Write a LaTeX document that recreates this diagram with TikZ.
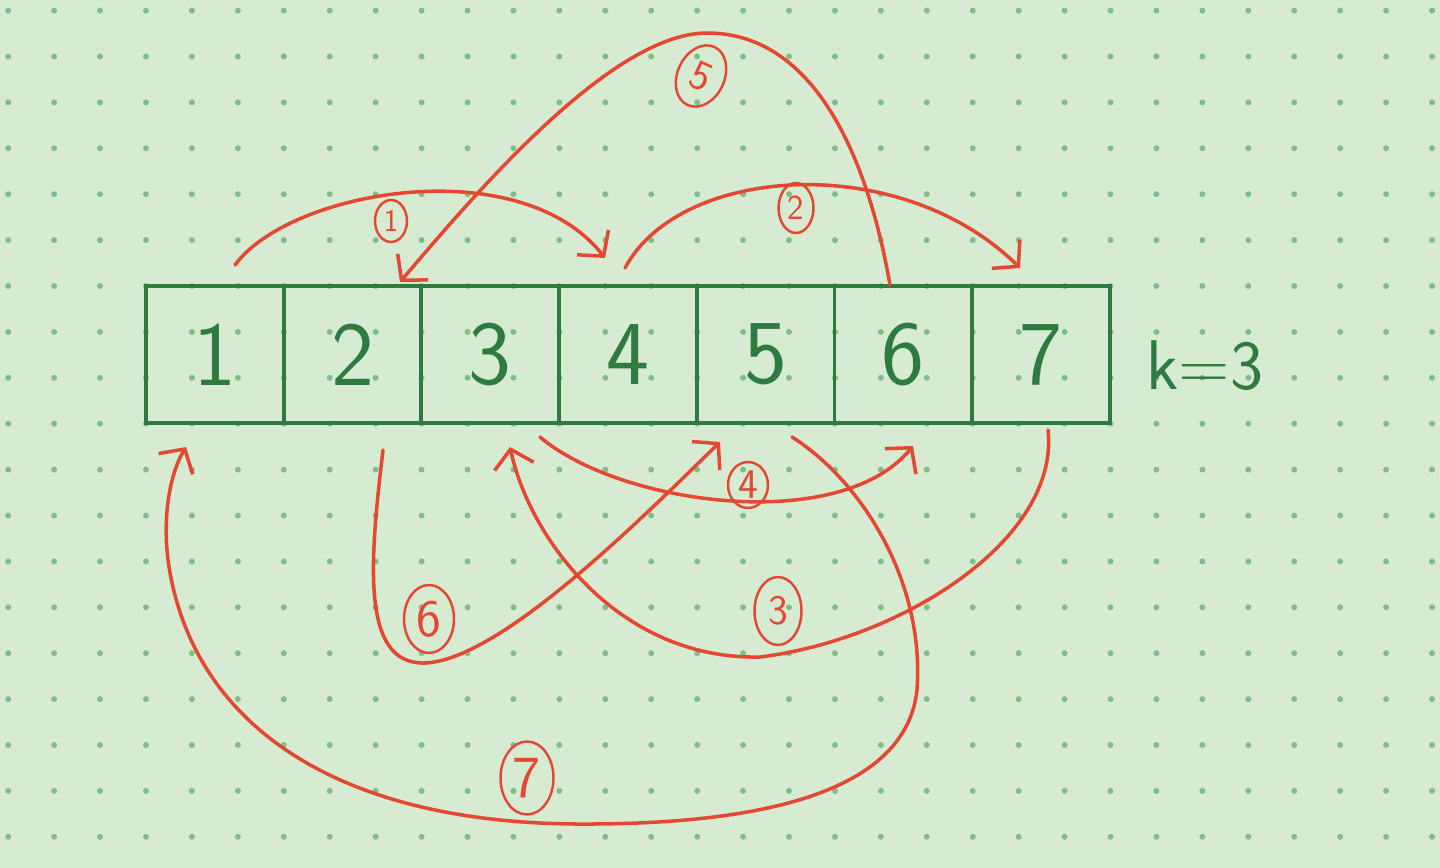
\documentclass[tikz,border=0pt]{standalone}
\usepackage{tikz}
\usetikzlibrary{positioning,arrows.meta,shapes.geometric}
\definecolor{paper}{RGB}{214,235,210}
\definecolor{dotc}{RGB}{128,190,136}
\definecolor{ink}{RGB}{46,122,64}
\definecolor{pen}{RGB}{228,72,50}

\begin{document}
\begin{tikzpicture}[x=0.02cm ,y=-0.02cm ,node distance =2.754cm ,on grid ,
cell/.style ={ draw=ink ,line width=2.2pt ,minimum width=2.754cm ,minimum height=2.74cm ,
  text=ink ,font=\sffamily\fontsize{52}{60}\selectfont},
ring/.style ={ ellipse ,draw=pen ,line width=1.4pt ,text=pen ,inner sep=0pt ,
  font=\sffamily\fontsize{24}{26}\selectfont},
hop/.style ={ draw=pen ,line width=2pt ,line cap=round ,
  -{Straight Barb[length=3.5mm,width=8mm]}}]
\fill[paper] (0,0) rectangle (1440,868);
\foreach \i in {0,...,31}
  \foreach \j in {0,...,18}
    \fill[dotc] (8.2+45.93*\i ,10.6+45.9*\j) circle (1.7pt);
\useasboundingbox (0,0) rectangle (1440,868);
\node[cell] (n1) at (214.9,354.5) {1};
\node[cell] (n2) [right =of n1] {2};
\node[cell] (n3) [right =of n2] {3};
\node[cell] (n4) [right =of n3] {4};
\node[cell] (n5) [right =of n4] {5};
\node[cell] (n6) [right =of n5] {6};
\node[cell] (n7) [right =of n6] {7};
\node[text=ink ,font=\sffamily\fontsize{40}{48}\selectfont] (k) at (1205,366) {k=3};
\node[ring ,minimum width=0.64cm ,minimum height=0.84cm ,font=\sffamily\fontsize{18}{20}\selectfont] (s1) at (391,221) {1};
\node[ring ,minimum width=0.7cm ,minimum height=1cm ,font=\sffamily\fontsize{20}{22}\selectfont] (s2) at (796,208) {2};
\node[ring ,minimum width=0.94cm ,minimum height=1.36cm] (s3) at (778,611) {3};
\node[ring ,minimum width=0.8cm ,minimum height=0.92cm] (s4) at (748,485) {4};
\node[ring ,minimum width=0.94cm ,minimum height=1.28cm ,rotate=-25] (s5) at (701,76) {5};
\node[ring ,minimum width=1cm ,minimum height=1.36cm ,font=\sffamily\fontsize{30}{32}\selectfont] (s6) at (429,619) {6};
\node[ring ,minimum width=1.06cm ,minimum height=1.46cm ,font=\sffamily\fontsize{34}{36}\selectfont] (s7) at (527,778) {7};
\coordinate (a1) at (235,265);
\coordinate (b1) at (605,258);
\coordinate (a2) at (625,268);
\coordinate (b2) at (1020,268);
\coordinate (a3) at (1048,430);
\coordinate (b3) at (510,447);
\coordinate (a4) at (540,437);
\coordinate (b4) at (913,446);
\coordinate (a5) at (890,285);
\coordinate (b5) at (400,282);
\coordinate (a6) at (383,450);
\coordinate (b6) at (720,442);
\coordinate (a7) at (792,437);
\coordinate (b7) at (186,447);
\draw[hop] (a1) .. controls (290,190) and (520,150) .. (b1);
\draw[hop] (a2) .. controls (680,165) and (900,150) .. (b2);
\draw[hop] (a3) .. controls (1060,540) and (900,640) .. (760,657)
  .. controls (620,660) and (530,540) .. (b3);
\draw[hop] (a4) .. controls (620,505) and (840,535) .. (b4);
\draw[hop] (a5) .. controls (870,170) and (820,33) .. (707,33)
  .. controls (610,33) and (470,200) .. (b5);
\draw[hop] (a6) .. controls (370,560) and (360,665) .. (425,663)
  .. controls (500,660) and (640,520) .. (b6);
\draw[hop] (a7) .. controls (860,480) and (925,580) .. (917,690)
  .. controls (905,800) and (740,825) .. (575,824)
  .. controls (330,822) and (190,720) .. (168,560)
  .. controls (162,510) and (172,470) .. (b7);
\end{tikzpicture}
\end{document}
